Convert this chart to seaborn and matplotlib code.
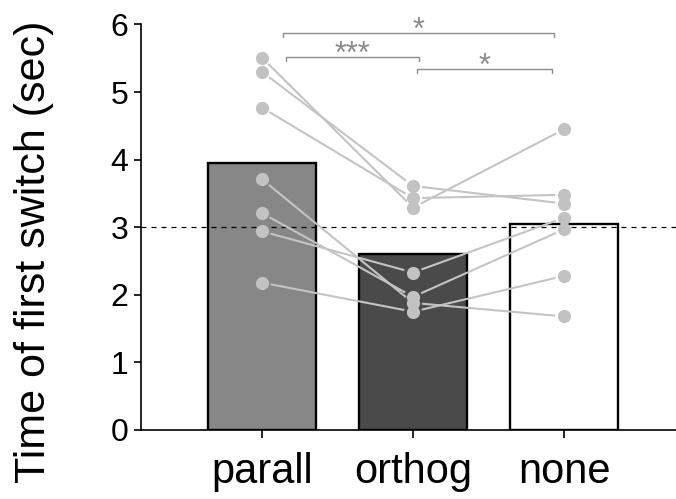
import numpy as np
import pandas as pd
import matplotlib
matplotlib.use("Agg")
import matplotlib.pyplot as plt
import seaborn as sns

# ---- data ----
conditions = ["parall", "orthog", "none"]
parall = [5.51, 5.30, 4.77, 3.71, 3.21, 2.94, 2.18]
orthog = [3.29, 3.61, 3.43, 1.88, 1.97, 2.33, 1.75]
none_ = [4.45, 3.35, 3.48, 1.68, 2.97, 3.14, 2.28]
chance_level = 3.0
yticks = [0, 1, 2, 3, 4, 5, 6]
bar_colors = ["#878787", "#4a4a4a", "#ffffff"]
# significance brackets: (from, to, height, label)
sig_from = [0.137, 0.157, 1.028]
sig_to = [1.936, 1.042, 1.919]
sig_y = [5.88, 5.52, 5.34]
sig_labels = ["*", "***", "*"]

n = len(parall)
df = pd.DataFrame({
    "subject": list(range(n)) * 3,
    "cond": [conditions[0]] * n + [conditions[1]] * n + [conditions[2]] * n,
    "value": parall + orthog + none_,
})

sns.set_style("ticks")
plt.rcParams["font.family"] = ["Liberation Sans", "DejaVu Sans"]
plt.rcParams["text.color"] = "black"
plt.rcParams["axes.labelcolor"] = "black"
plt.rcParams["xtick.color"] = "black"
plt.rcParams["ytick.color"] = "black"
plt.rcParams["axes.edgecolor"] = "black"

fig = plt.figure(figsize=(6.76, 4.99), dpi=100)
ax = fig.add_axes([0.2086, 0.1383, 0.7914, 0.8127])

sns.barplot(data=df, x="cond", y="value", order=conditions, hue="cond",
            palette=bar_colors, estimator="mean", errorbar=None, width=0.715,
            edgecolor="black", linewidth=1.7, legend=False, ax=ax, zorder=1)

ax.axhline(chance_level, color="black", lw=0.9, ls=(0, (4, 4)), zorder=2)

# paired lines
gray = "#c4c4c4"
series = [parall, orthog, none_]
for s in range(n):
    for c in range(2):
        ax.annotate("", xy=(c + 1, series[c + 1][s]), xytext=(c, series[c][s]),
                    arrowprops=dict(arrowstyle="-", color=gray, lw=1.5,
                                    shrinkA=7, shrinkB=7), zorder=3)

sns.stripplot(data=df, x="cond", y="value", order=conditions, jitter=False,
              color="#c2c2c2", size=9.5, linewidth=0, ax=ax, zorder=4)

# significance brackets
bcol = "#8c8c8c"
for x0, x1, y, lab in zip(sig_from, sig_to, sig_y, sig_labels):
    ax.plot([x0, x0, x1, x1], [y - 0.06, y, y, y - 0.06], color=bcol, lw=1.0,
            zorder=5, clip_on=False)
    ax.text((x0 + x1) / 2, y - 0.09, lab, ha="center", va="baseline",
            color=bcol, fontsize=22, zorder=5)

ax.set_xlim(-0.80, 2.74)
ax.set_ylim(0, 6)
ax.set_yticks(yticks)
ax.set_yticklabels([str(t) for t in yticks])
sns.despine(ax=ax)
ax.spines["left"].set_linewidth(1.2)
ax.spines["bottom"].set_linewidth(1.2)
ax.tick_params(axis="y", labelsize=23, length=5, width=1.2, pad=4)
ax.tick_params(axis="x", labelsize=30, length=6, width=1.2, pad=10)
ax.set_xlabel("")
ax.set_ylabel("Time of first switch (sec)", fontsize=31)
ax.yaxis.set_label_coords(-0.163, 0.44)

fig.savefig("out.png", dpi=100)
